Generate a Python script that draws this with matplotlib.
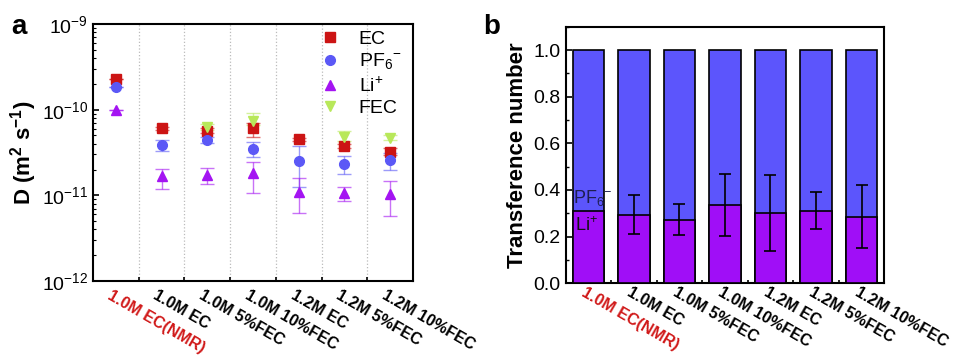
import matplotlib
matplotlib.use("Agg")
import matplotlib.pyplot as plt
import numpy as np
from matplotlib.ticker import LogLocator, NullFormatter, MultipleLocator, FixedLocator

plt.rcParams['font.family'] = ['Liberation Sans', 'DejaVu Sans']
plt.rcParams['mathtext.fontset'] = 'custom'
plt.rcParams['mathtext.rm'] = 'Liberation Sans'
plt.rcParams['mathtext.bf'] = 'Liberation Sans:bold'

categories = ["1.0M EC(NMR)", "1.0M EC", "1.0M 5%FEC", "1.0M 10%FEC",
              "1.2M EC", "1.2M 5%FEC", "1.2M 10%FEC"]

# Panel a: diffusion coefficients (m^2 s^-1); NaN = absent
D_EC = [2.28e-10, 6.06e-11, 5.7e-11, 6.06e-11, 4.5e-11, 3.77e-11, 3.23e-11]
D_EC_lo = [2.28e-10, 5.8e-11, 5.3e-11, 4.77e-11, 4.35e-11, 3.6e-11, 2.95e-11]
D_EC_hi = [2.28e-10, 6.3e-11, 6.1e-11, 6.93e-11, 4.65e-11, 3.95e-11, 3.55e-11]

D_PF6 = [1.82e-10, 3.84e-11, 4.43e-11, 3.48e-11, 2.5e-11, 2.32e-11, 2.59e-11]
D_PF6_lo = [1.82e-10, 3.33e-11, 4.1e-11, 2.78e-11, 1.26e-11, 1.78e-11, 2.0e-11]
D_PF6_hi = [1.82e-10, 4.43e-11, 4.8e-11, 4.17e-11, 3.8e-11, 2.9e-11, 3.1e-11]

D_Li = [1.0e-10, 1.66e-11, 1.73e-11, 1.81e-11, 1.1e-11, 1.06e-11, 1.04e-11]
D_Li_lo = [1.0e-10, 1.2e-11, 1.36e-11, 1.06e-11, 6.2e-12, 8.7e-12, 5.8e-12]
D_Li_hi = [1.0e-10, 2.01e-11, 2.07e-11, 2.43e-11, 1.58e-11, 1.24e-11, 1.48e-11]

D_FEC = [np.nan, np.nan, 6.2e-11, 7.45e-11, np.nan, 4.85e-11, 4.71e-11]
D_FEC_lo = [np.nan, np.nan, 5.8e-11, 6.6e-11, np.nan, 4.3e-11, 4.45e-11]
D_FEC_hi = [np.nan, np.nan, 6.8e-11, 9.1e-11, np.nan, 5.7e-11, 5.0e-11]

# Panel b: Li+ transference number and error
t_Li = [0.308, 0.294, 0.272, 0.334, 0.301, 0.311, 0.286]
t_Li_err = [0.0, 0.083, 0.067, 0.133, 0.162, 0.079, 0.134]
t_total = [1.0] * 7

c_EC = '#CC1414'
c_PF6 = '#5B58F6'
c_Li = '#A414F2'
c_FEC = '#B8E85A'
c_blue_bar = '#5C55FC'
c_purple_bar = '#A00EF7'
c_red_text = '#D01818'

fig = plt.figure(figsize=(9.57, 3.59), dpi=100)
axa = fig.add_axes([0.0972, 0.2173, 0.3344, 0.7158])
axb = fig.add_axes([0.5911, 0.2109, 0.3329, 0.7147])

x = np.arange(1, len(categories) + 1)

def yerr(v, lo, hi):
    v = np.array(v, float); lo = np.array(lo, float); hi = np.array(hi, float)
    return np.vstack([v - lo, hi - v])

series = [
    (D_EC, D_EC_lo, D_EC_hi, 's', c_EC, 'EC', 6.5),
    (D_PF6, D_PF6_lo, D_PF6_hi, 'o', c_PF6, 'PF$_6$$^{-}$', 7),
    (D_Li, D_Li_lo, D_Li_hi, '^', c_Li, 'Li$^{+}$', 7),
    (D_FEC, D_FEC_lo, D_FEC_hi, 'v', c_FEC, 'FEC', 7),
]
handles = []
for v, lo, hi, m, c, lab, ms in series:
    axa.errorbar(x, v, yerr=yerr(v, lo, hi), fmt='none', ecolor=c, alpha=0.6,
                 elinewidth=1.0, capsize=5, capthick=1.0, zorder=2)
    h = axa.plot(x, v, linestyle='none', marker=m, color=c, markersize=ms,
                 label=lab, zorder=3)[0]
    handles.append(h)

axa.set_yscale('log')
axa.set_ylim(1e-12, 1e-9)
axa.set_xlim(0.5, len(categories) + 0.5)
for b in np.arange(1.5, len(categories)):
    axa.axvline(b, color='#BBBBBB', linestyle=':', linewidth=0.9, zorder=1)
axa.xaxis.set_major_locator(FixedLocator(x))
axa.xaxis.set_minor_locator(FixedLocator(np.arange(1.5, len(categories))))
axa.tick_params(axis='x', which='major', length=0)
axa.tick_params(axis='x', which='minor', length=3, direction='in', width=1.2)
axa.yaxis.set_major_locator(LogLocator(base=10, numticks=10))
axa.yaxis.set_minor_locator(LogLocator(base=10, subs=np.arange(2, 10), numticks=10))
axa.yaxis.set_minor_formatter(NullFormatter())
axa.tick_params(axis='y', which='major', direction='in', length=4, width=1.2, labelsize=14)
axa.tick_params(axis='y', which='minor', direction='in', length=2, width=0.8)
axa.set_ylabel('D (m$^{\\mathbf{2}}$ s$^{\\mathbf{-1}}$)', fontsize=16, fontweight='bold', labelpad=2)
for s in axa.spines.values():
    s.set_linewidth(1.5)
axa.set_xticklabels([])
for i, lab in enumerate(categories):
    axa.text(x[i] - 0.15, 0.70e-12, lab, rotation=-30, rotation_mode='anchor',
             ha='left', va='center', fontsize=11.5, fontweight='bold',
             color=c_red_text if i == 0 else 'black', transform=axa.transData,
             clip_on=False)
axa.legend(handles=handles, loc='upper right', frameon=False, fontsize=14,
           handletextpad=0.7, labelspacing=0.18, borderaxespad=0.2,
           handlelength=1.6, bbox_to_anchor=(1.0, 1.02))

# Panel b
axb.bar(x, t_total, width=0.7, color=c_blue_bar, edgecolor='black', linewidth=1.2, zorder=2)
axb.bar(x, t_Li, width=0.7, color=c_purple_bar, edgecolor='black', linewidth=1.2, zorder=3)
mask = np.array(t_Li_err) > 0
axb.errorbar(x[mask], np.array(t_Li)[mask], yerr=np.array(t_Li_err)[mask], fmt='none',
             ecolor='black', elinewidth=1.2, capsize=4, capthick=1.2, zorder=4)
axb.set_xlim(0.5, len(categories) + 0.5)
axb.set_ylim(0, 1.1)
axb.yaxis.set_major_locator(MultipleLocator(0.2))
axb.yaxis.set_minor_locator(MultipleLocator(0.1))
axb.tick_params(axis='y', which='major', direction='in', length=4, width=1.2, labelsize=14)
axb.tick_params(axis='y', which='minor', direction='in', length=2, width=1.0)
axb.xaxis.set_major_locator(FixedLocator(x))
axb.xaxis.set_minor_locator(FixedLocator(np.arange(1.5, len(categories))))
axb.tick_params(axis='x', which='major', length=0)
axb.tick_params(axis='x', which='minor', length=2, direction='in', width=1.2)
axb.set_xticklabels([])
axb.set_ylabel('Transference number', fontsize=16, fontweight='bold', labelpad=4)
for s in axb.spines.values():
    s.set_linewidth(1.5)
for i, lab in enumerate(categories):
    axb.text(x[i] - 0.12, -0.035, lab, rotation=-30, rotation_mode='anchor',
             ha='left', va='center', fontsize=11.5, fontweight='bold',
             color=c_red_text if i == 0 else 'black', transform=axb.transData,
             clip_on=False)
axb.text(x[0] - 0.33, 0.365, 'PF$_6$$^{-}$', fontsize=13, color='#1E1E50', ha='left', va='center', zorder=5)
axb.text(x[0] - 0.3, 0.245, 'Li$^{+}$', fontsize=13, color='#111111', ha='left', va='center', zorder=5)

fig.text(0.012, 0.905, 'a', fontsize=20, fontweight='bold')
fig.text(0.505, 0.905, 'b', fontsize=20, fontweight='bold')

fig.savefig('out.png', dpi=100)
